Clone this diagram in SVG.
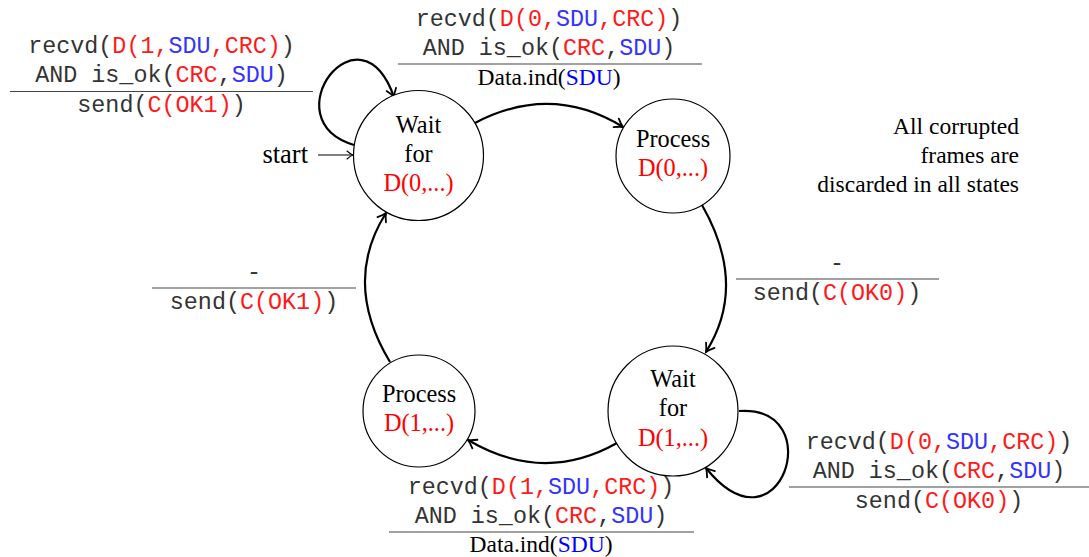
<svg xmlns="http://www.w3.org/2000/svg" width="1089" height="557" viewBox="0 0 1089 557">
<style>
.node{fill:#fff;stroke:#000;stroke-width:1.2}
.st{font-family:"Liberation Serif","Times New Roman",serif;font-size:23.5px;fill:#000;text-anchor:middle}
.nt{font-size:24.3px}
.mono{font-family:"Liberation Mono","Courier New",monospace;font-size:23.4px;fill:#333;text-anchor:middle}
.r{fill:#ff1a1a}
.b{fill:#3333ff}
.sr{fill:#ff0000}
.bb{fill:#0000ff}
.edge{fill:none;stroke:#000;stroke-width:2.2}
.bar{stroke:#444;stroke-width:1.2}
</style>
<defs>
<marker id="arr" markerUnits="userSpaceOnUse" markerWidth="20" markerHeight="20" viewBox="-10 -10 20 20" refX="0" refY="0" orient="auto" overflow="visible">
<path d="M-8,-5 Q-3,-1.2 0,0 Q-3,1.2 -8,5" fill="none" stroke="#000" stroke-width="1.8" stroke-linecap="round"/>
</marker>
<marker id="arrs" markerUnits="userSpaceOnUse" markerWidth="16" markerHeight="16" viewBox="-8 -8 16 16" refX="0" refY="0" orient="auto" overflow="visible">
<path d="M-6,-4 Q-2.5,-0.8 0,0 Q-2.5,0.8 -6,4" fill="none" stroke="#000" stroke-width="1.1" stroke-linecap="round"/>
</marker>
</defs>

<g id="connectors">
<path class="edge" d="M475,123 Q551,83 623,127" marker-end="url(#arr)"/>
<path class="edge" d="M702,205 Q748,285.5 706,352" marker-end="url(#arr)"/>
<path class="edge" d="M617,443 Q543.5,484.5 468,440" marker-end="url(#arr)"/>
<path class="edge" d="M390,362 Q342,282.5 386,213" marker-end="url(#arr)"/>
<path class="edge" d="M354,145 C270,120 360,0 394,97" marker-end="url(#arr)"/>
<path class="edge" d="M739,411 C830,405 780,560 706,468" marker-end="url(#arr)"/>
<path d="M318,155 L353,155" fill="none" stroke="#000" stroke-width="1.1" marker-end="url(#arrs)"/>
</g>

<g id="node-wait0">
<circle class="node" cx="418.5" cy="155.5" r="65"/>
<text class="st nt" x="418.5" y="133">Wait</text>
<text class="st nt" x="418.5" y="162">for</text>
<text class="st nt sr" x="418.5" y="191">D(0,...)</text>
</g>
<g id="node-process0">
<circle class="node" cx="673" cy="156" r="57"/>
<text class="st nt" x="673" y="147">Process</text>
<text class="st nt sr" x="673" y="176">D(0,...)</text>
</g>
<g id="node-wait1">
<circle class="node" cx="673" cy="411" r="65"/>
<text class="st nt" x="673" y="387">Wait</text>
<text class="st nt" x="673" y="416">for</text>
<text class="st nt sr" x="673" y="446">D(1,...)</text>
</g>
<g id="node-process1">
<circle class="node" cx="419" cy="411" r="56"/>
<text class="st nt" x="419" y="402">Process</text>
<text class="st nt sr" x="419" y="431">D(1,...)</text>
</g>

<g id="start-label">
<text class="st" x="308" y="163" style="text-anchor:end;font-size:26.5px">start</text>
</g>

<g id="note">
<text class="st" x="1019" y="134" style="text-anchor:end">All corrupted</text>
<text class="st" x="1019" y="163" style="text-anchor:end">frames are</text>
<text class="st" x="1019" y="192" style="text-anchor:end">discarded in all states</text>
</g>

<g id="label-loop0">
<text class="mono" x="161.5" y="53">recvd(<tspan class="r">D(1,</tspan><tspan class="b">SDU</tspan><tspan class="r">,CRC)</tspan>)</text>
<text class="mono" x="161.5" y="82">AND is_ok(<tspan class="r">CRC</tspan>,<tspan class="b">SDU</tspan>)</text>
<line class="bar" x1="10" y1="91.5" x2="313" y2="91.5"/>
<text class="mono" x="161.5" y="112">send(<tspan class="r">C(OK1)</tspan>)</text>
</g>

<g id="label-w0-p0">
<text class="mono" x="549" y="26">recvd(<tspan class="r">D(0,</tspan><tspan class="b">SDU</tspan><tspan class="r">,CRC)</tspan>)</text>
<text class="mono" x="549" y="55">AND is_ok(<tspan class="r">CRC</tspan>,<tspan class="b">SDU</tspan>)</text>
<line class="bar" x1="398" y1="64" x2="702" y2="64"/>
<text class="st" x="549" y="85">Data.ind(<tspan class="bb">SDU</tspan>)</text>
</g>

<g id="label-p0-w1">
<text class="mono" x="837" y="270">-</text>
<line class="bar" x1="736" y1="279" x2="939" y2="279"/>
<text class="mono" x="837" y="300">send(<tspan class="r">C(OK0)</tspan>)</text>
</g>

<g id="label-p1-w0">
<text class="mono" x="254" y="279">-</text>
<line class="bar" x1="152" y1="288" x2="356" y2="288"/>
<text class="mono" x="254" y="309">send(<tspan class="r">C(OK1)</tspan>)</text>
</g>

<g id="label-w1-p1">
<text class="mono" x="541" y="494">recvd(<tspan class="r">D(1,</tspan><tspan class="b">SDU</tspan><tspan class="r">,CRC)</tspan>)</text>
<text class="mono" x="541" y="523">AND is_ok(<tspan class="r">CRC</tspan>,<tspan class="b">SDU</tspan>)</text>
<line class="bar" x1="389" y1="532" x2="694" y2="532"/>
<text class="st" x="541" y="552">Data.ind(<tspan class="bb">SDU</tspan>)</text>
</g>

<g id="label-loop1">
<text class="mono" x="939" y="449">recvd(<tspan class="r">D(0,</tspan><tspan class="b">SDU</tspan><tspan class="r">,CRC)</tspan>)</text>
<text class="mono" x="939" y="478">AND is_ok(<tspan class="r">CRC</tspan>,<tspan class="b">SDU</tspan>)</text>
<line class="bar" x1="789" y1="487" x2="1089" y2="487"/>
<text class="mono" x="939" y="508">send(<tspan class="r">C(OK0)</tspan>)</text>
</g>
</svg>
